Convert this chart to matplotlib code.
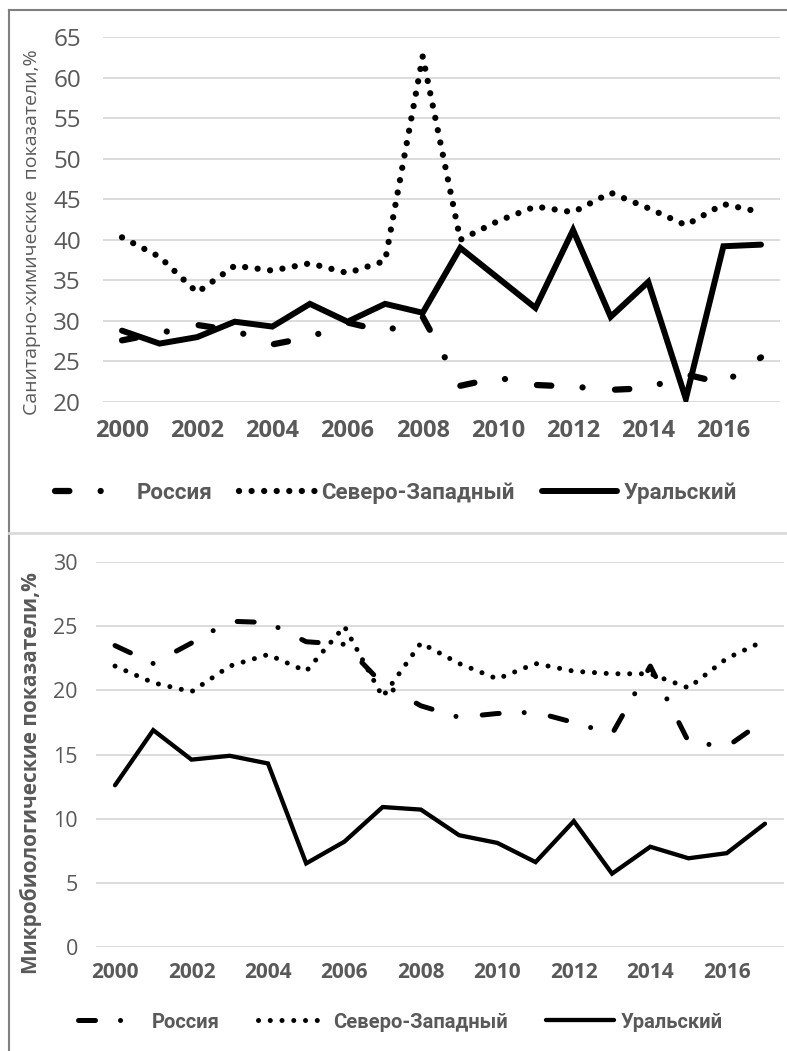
import matplotlib
matplotlib.use("Agg")
import matplotlib.pyplot as plt
from matplotlib.lines import Line2D

years = list(range(2000, 2018))
tick_years = list(range(2000, 2017, 2))
series_names = ["Россия", "Северо-Западный", "Уральский"]

# top chart - sanitary-chemical indicators, %
chem_russia = [27.6, 28.5, 29.5, 28.8, 27.1, 28.0, 29.8, 28.7, 30.5, 22.0,
               23.0, 22.1, 21.9, 21.5, 21.7, 23.4, 22.3, 25.5]
chem_nw = [40.3, 37.9, 33.5, 36.8, 36.2, 37.1, 35.9, 37.4, 62.6, 40.0,
           42.3, 44.1, 43.4, 45.8, 43.9, 41.8, 44.4, 43.4]
chem_ural = [28.8, 27.2, 28.0, 29.9, 29.3, 32.1, 29.9, 32.1, 31.0, 39.0,
             35.3, 31.6, 41.2, 30.5, 34.8, 20.4, 39.2, 39.4]
chem_yticks = [20, 25, 30, 35, 40, 45, 50, 55, 60, 65]

# bottom chart - microbiological indicators, %
micro_russia = [23.5, 22.1, 23.7, 25.4, 25.3, 23.8, 23.6, 20.5, 18.8, 17.9,
                18.2, 18.3, 17.5, 16.6, 21.9, 16.0, 15.6, 17.7]
micro_nw = [21.9, 20.6, 19.9, 21.9, 22.8, 21.5, 25.0, 19.5, 23.7, 22.1,
            20.9, 22.1, 21.5, 21.3, 21.3, 20.2, 22.5, 23.9]
micro_ural = [12.6, 16.9, 14.6, 14.9, 14.3, 6.5, 8.2, 10.9, 10.7, 8.7,
              8.1, 6.6, 9.8, 5.7, 7.8, 6.9, 7.3, 9.6]
micro_yticks = [0, 5, 10, 15, 20, 25, 30]

GRAY = "#595959"
GRID = "#d9d9d9"
W, H = 787, 1051

fig = plt.figure(figsize=(W / 100, H / 100), dpi=100)

ax1 = fig.add_axes([103.2 / W, 1 - 402 / H, 676.6 / W, 365 / H])
ax2 = fig.add_axes([95.9 / W, 1 - 946.7 / H, 688.2 / W, 384.4 / H])


def draw(ax, r, nw, ur, lws, dashes_r, dot_gap):
    ax.plot(years, r, color="black", lw=lws[0], linestyle=(0, dashes_r),
            dash_capstyle="round", solid_capstyle="round", label=series_names[0])
    ax.plot(years, nw, color="black", lw=lws[1], linestyle=(0, (0.01, dot_gap)),
            dash_capstyle="round", label=series_names[1])
    ax.plot(years, ur, color="black", lw=lws[2], solid_capstyle="round",
            solid_joinstyle="miter", label=series_names[2])
    ax.set_xlim(1999.5, 2017.5)
    ax.set_xticks(tick_years)
    ax.grid(axis="y", color=GRID, lw=1.3)
    ax.set_axisbelow(True)
    for s in ax.spines.values():
        s.set_visible(False)
    ax.tick_params(length=0, colors=GRAY)


draw(ax1, chem_russia, chem_nw, chem_ural, (4.5, 4.5, 4.3), (2.3, 5.0, 0.01, 5.2), 2.0)
ax1.set_ylim(20, 65)
ax1.set_yticks(chem_yticks)
ax1.set_yticklabels([str(v) for v in chem_yticks], fontfamily="Open Sans", fontsize=17.5)
ax1.set_xticklabels([str(v) for v in tick_years], fontfamily="Open Sans",
                    fontweight="bold", fontsize=17)
ax1.tick_params(axis="y", pad=16)
ax1.tick_params(axis="x", pad=12)

draw(ax2, micro_russia, micro_nw, micro_ural, (3.6, 3.6, 3.1), (3.4, 5.0, 0.01, 5.3), 2.34)
ax2.set_ylim(0, 30)
ax2.set_yticks(micro_yticks)
ax2.set_yticklabels([str(v) for v in micro_yticks], fontfamily="Open Sans", fontsize=15.5)
ax2.set_xticklabels([str(v) for v in tick_years], fontfamily="Open Sans",
                    fontweight="bold", fontsize=15)
ax2.tick_params(axis="y", pad=13)
ax2.tick_params(axis="x", pad=11)

fig.text(32 / W, 1 - 232 / H, "Санитарно-химические  показатели,%", rotation=90,
         ha="center", va="center", color=GRAY, fontfamily="Open Sans", fontsize=14)
fig.text(31 / W, 1 - 773 / H, "Микробиологические показатели,%", rotation=90,
         ha="center", va="center", color=GRAY, fontfamily="Open Sans",
         fontweight="bold", fontsize=15)

leg_font = {"family": "Roboto", "weight": "bold", "size": 16}
l1 = ax1.legend(loc="center", bbox_to_anchor=(396 / W, 1 - 493 / H),
                bbox_transform=fig.transFigure, ncol=3, frameon=False,
                prop=leg_font, handlelength=3.4, handletextpad=0.3,
                columnspacing=1.2)
for t in l1.get_texts():
    t.set_color(GRAY)
leg_font2 = dict(leg_font, size=14.5)
l2 = ax2.legend(loc="center", bbox_to_anchor=(400 / W, 1 - 1022 / H),
                bbox_transform=fig.transFigure, ncol=3, frameon=False,
                prop=leg_font2, handlelength=3.4, handletextpad=0.3,
                columnspacing=1.9)
for t in l2.get_texts():
    t.set_color(GRAY)

# panel borders
fig.add_artist(Line2D([9 / W, 1], [1 - 10 / H, 1 - 10 / H], color="#808080", lw=1.5))
fig.add_artist(Line2D([9 / W, 9 / W], [0, 1 - 10 / H], color="#808080", lw=1.5))
fig.add_artist(Line2D([9 / W, 1], [1 - 533 / H, 1 - 533 / H], color=GRID, lw=2))

fig.savefig("out.png", dpi=100)
